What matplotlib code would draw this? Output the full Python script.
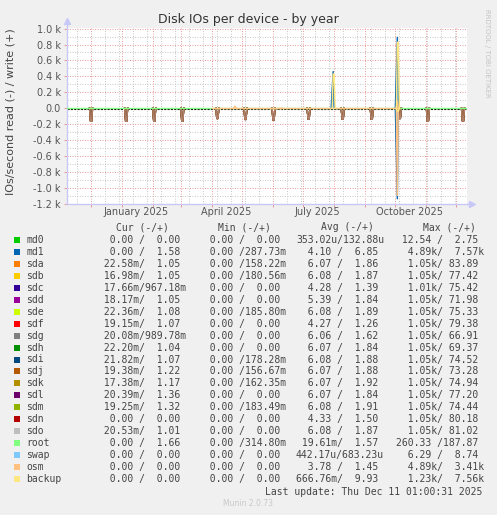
import numpy as np
import matplotlib
matplotlib.use("Agg")
import matplotlib.pyplot as plt
import matplotlib.dates as mdates
from matplotlib.patches import Rectangle
from matplotlib.transforms import offset_copy

W, H = 497, 515

# Geraete und Farben (Munin-Palette)
devices = ["md0", "md1", "sda", "sdb", "sdc", "sdd", "sde", "sdf", "sdg", "sdh",
           "sdi", "sdj", "sdk", "sdl", "sdm", "sdn", "sdo", "root", "swap", "osm", "backup"]
colors = ["#00CC00", "#0066B3", "#FF8000", "#FFCC00", "#330099", "#990099", "#CCFF00",
          "#FF0000", "#808080", "#008F00", "#00487D", "#B35A00", "#B38F00", "#6B006B",
          "#8FB300", "#B30000", "#BEBEBE", "#80FF80", "#80C9FF", "#FFC080", "#FFE680"]

# Legendenwerte (read / write)
cur_read = ["0.00", "0.00", "22.58m", "16.98m", "17.66m", "18.17m", "22.36m", "19.15m", "20.08m",
            "22.20m", "21.82m", "19.38m", "17.38m", "20.39m", "19.25m", "0.00", "20.53m",
            "0.00", "0.00", "0.00", "0.00"]
cur_write = ["0.00", "1.58", "1.05", "1.05", "967.18m", "1.05", "1.08", "1.07", "989.78m",
             "1.04", "1.07", "1.22", "1.17", "1.36", "1.32", "0.00", "1.01",
             "1.66", "0.00", "0.00", "0.00"]
min_read = ["0.00"] * 21
min_write = ["0.00", "287.73m", "158.22m", "180.56m", "0.00", "0.00", "185.80m", "0.00", "0.00",
             "0.00", "178.28m", "156.67m", "162.35m", "0.00", "183.49m", "0.00", "0.00",
             "314.80m", "0.00", "0.00", "0.00"]
avg_read = ["353.02u", "4.10", "6.07", "6.08", "4.28", "5.39", "6.08", "4.27", "6.06",
            "6.07", "6.08", "6.07", "6.07", "6.07", "6.08", "4.33", "6.08",
            "19.61m", "442.17u", "3.78", "666.76m"]
avg_write = ["132.88u", "6.85", "1.86", "1.87", "1.39", "1.84", "1.89", "1.26", "1.62",
             "1.84", "1.88", "1.88", "1.92", "1.84", "1.91", "1.50", "1.87",
             "1.57", "683.23u", "1.45", "9.93"]
max_read = ["12.54", "4.89k", "1.05k", "1.05k", "1.01k", "1.05k", "1.05k", "1.05k", "1.05k",
            "1.05k", "1.05k", "1.05k", "1.05k", "1.05k", "1.05k", "1.05k", "1.05k",
            "260.33", "6.29", "4.89k", "1.23k"]
max_write = ["2.75", "7.57k", "83.89", "77.42", "75.42", "71.98", "75.33", "79.38", "66.91",
             "69.37", "74.52", "73.28", "74.94", "77.20", "74.44", "80.18", "81.02",
             "187.87", "8.74", "3.41k", "7.56k"]

# monatlicher RAID-Check: Lese-Spitzen der sd-Platten (IOs/s, Tagesmittel)
check_days = ["2024-12-01", "2025-01-05", "2025-02-02", "2025-03-02", "2025-04-06", "2025-05-04",
              "2025-06-01", "2025-07-06", "2025-08-09", "2025-09-07", "2025-10-05", "2025-11-02",
              "2025-12-07"]
check_reads = [165, 165, 165, 165, 130, 142, 150, 138, 140, 140, 130, 164, 164]

# einzelne Ereignisse
md1_days = ["2025-07-31", "2025-10-03"]
md1_reads = [0, 1140]
md1_writes = [460, 890]
backup_days = ["2025-07-31", "2025-10-03"]
backup_reads = [0, 40]
backup_writes = [430, 830]
osm_days = ["2025-04-24", "2025-06-09", "2025-10-03"]
osm_reads = [0, 10, 1100]
osm_writes = [25, 0, 90]
root_write_level = 1.57
osm_active = ["2025-04-01", "2025-10-05"]

start = np.datetime64("2024-11-07")
end = np.datetime64("2025-12-12")


def spikes(days, vals, sign, before=1, hold=0):
    xs, ys = [], []
    for d, v in zip(days, vals):
        if v == 0:
            continue
        t = mdates.date2num(np.datetime64(d))
        xs += [t - before, t, t + hold, t + hold + 1, np.nan]
        ys += [0, sign * v, sign * v, 0, np.nan]
    return xs, ys


fig = plt.figure(figsize=(W / 100, H / 100), dpi=100)
fig.patch.set_facecolor("#F0F0F0")
ax = fig.add_axes([66.5 / W, 1 - 203.5 / H, 401 / W, 175.5 / H])
ax.set_facecolor("white")
ax.set_xlim(mdates.date2num(start), mdates.date2num(end))
ax.set_ylim(-1200, 1008)

# Gitter
month_starts = np.arange(np.datetime64("2024-12"), np.datetime64("2026-01"), 1).astype("datetime64[D]")
biweekly = np.arange(np.datetime64("2024-11-17"), end, 14)
ax.set_xticks(mdates.date2num(month_starts))
ax.set_xticks(mdates.date2num(biweekly), minor=True)
ax.set_xticklabels([])
ax.set_yticks(np.arange(-1200, 1001, 200))
ax.set_yticks(np.arange(-1100, 1001, 200), minor=True)
ax.set_yticklabels(["0.0" if v == 0 else f"{v / 1000:.1f} k" for v in np.arange(-1200, 1001, 200)])
ax.grid(which="minor", color="#CACACA", linestyle=(0, (1, 1.5)), linewidth=0.72)
ax.grid(which="major", color="#EEA0A0", linestyle=(0, (1, 1.5)), linewidth=0.72)
ax.set_axisbelow(True)
ax.tick_params(which="major", length=2, width=0.7, color="#E89A9A", labelsize=7,
               labelcolor="#555555", pad=2)
ax.tick_params(which="minor", length=0)

for s in ["top", "right"]:
    ax.spines[s].set_visible(False)
for s in ["left", "bottom"]:
    ax.spines[s].set_color("#C8C8F8")
    ax.spines[s].set_linewidth(1)
ax.plot([0, 0], [1, 1.04], transform=ax.transAxes, color="#C8C8F8", lw=1, clip_on=False)
ax.plot([0], [1.04], marker="^", ms=5, color="#C8C8F8", transform=ax.transAxes, clip_on=False)
ax.plot([1, 1.012], [0, 0], transform=ax.transAxes, color="#C8C8F8", lw=1, clip_on=False)
ax.plot([1.012], [0], marker=">", ms=5, color="#C8C8F8", transform=ax.transAxes, clip_on=False)

# Quartalsbeschriftung
for d, lab in [("2025-01-15", "January 2025"), ("2025-04-15", "April 2025"),
               ("2025-07-15", "July 2025"), ("2025-10-15", "October 2025")]:
    ax.text(mdates.date2num(np.datetime64(d)), -(212 - 203.5) / 175.5, lab,
            transform=ax.get_xaxis_transform(), ha="center", va="center",
            fontsize=7, color="#555555")

# Nulllinie
zero_tr = offset_copy(ax.transData, fig=fig, x=0, y=-1, units="dots")
ax.plot([mdates.date2num(start), mdates.date2num(end)], [0, 0], color="black",
        lw=0.8, linestyle=(0, (2, 1)), transform=zero_tr, zorder=2)

# Daten zeichnen
lw = 1.0
for i, dev in enumerate(devices):
    c = colors[i]
    if dev.startswith("sd"):
        x, y = spikes(check_days, check_reads, -1, hold=1)
        ax.plot(x, y, color=c, lw=lw, alpha=0.55, zorder=3)
    elif dev == "md1":
        for vals, sign in [(md1_reads, -1), (md1_writes, 1)]:
            x, y = spikes(md1_days, vals, sign, before=2)
            ax.plot(x, y, color=c, lw=lw, zorder=3)
    elif dev == "root":
        ax.plot([mdates.date2num(start), mdates.date2num(end)],
                [root_write_level, root_write_level], color=c, lw=lw, zorder=3)
    elif dev == "osm":
        ax.plot(mdates.date2num(np.array(osm_active, dtype="datetime64[D]")), [0, 0],
                color=c, lw=lw, zorder=3)
        for vals, sign in [(osm_reads, -1), (osm_writes, 1)]:
            x, y = spikes(osm_days, vals, sign)
            ax.plot(x, y, color=c, lw=lw, zorder=3)
    elif dev == "backup":
        for vals, sign in [(backup_reads, -1), (backup_writes, 1)]:
            x, y = spikes(backup_days, vals, sign, hold=1)
            ax.plot(x, y, color=c, lw=lw, zorder=3)

# Texte
fig.text(248 / W, 1 - 20 / H, "Disk IOs per device - by year", ha="center", va="center",
         fontsize=9, color="#333333")
fig.text(11 / W, 1 - 112 / H, "IOs/second read (-) / write (+)", rotation=90,
         ha="center", va="center", fontsize=8, color="#444444")
fig.text(487 / W, 1 - 53 / H, "RRDTOOL / TOBI OETIKER", rotation=270, ha="center",
         va="center", fontsize=5, color="#C4C4C4")

mono = "DejaVu Sans Mono"
col_x = [97.5, 197.7, 296, 395.5]
for hx, hdr in zip([116, 218, 321, 423], ["Cur (-/+)", "Min (-/+)", "Avg (-/+)", "Max (-/+)"]):
    fig.text(hx / W, 1 - 227.3 / H, hdr, family=mono, fontsize=7, color="#444444",
             ha="left", va="center")


def half(s):
    if s[-1] in "umkM":
        return s[:-1].rjust(6) + s[-1]
    return s.rjust(6) + " "


for i, dev in enumerate(devices):
    y = 239.7 + i * 11.98
    fig.add_artist(Rectangle((14 / W, 1 - (y + 3) / H), 6 / W, 6 / H,
                             transform=fig.transFigure, facecolor=colors[i], edgecolor="none"))
    fig.text(26.3 / W, 1 - y / H, dev, family=mono, fontsize=7, color="#444444",
             ha="left", va="center")
    cols = [(cur_read, cur_write), (min_read, min_write), (avg_read, avg_write), (max_read, max_write)]
    for cx, (r, w) in zip(col_x, cols):
        fig.text(cx / W, 1 - y / H, half(r[i]) + "/" + half(w[i]), family=mono, fontsize=7,
                 color="#444444", ha="left", va="center")

fig.text(482.7 / W, 1 - 491.7 / H, "Last update: Thu Dec 11 01:00:31 2025", family=mono,
         fontsize=7, color="#444444", ha="right", va="center")
fig.text(248 / W, 1 - 504 / H, "Munin 2.0.73", ha="center", va="center", fontsize=5.5,
         color="#C8C8C8")

fig.savefig("out.png", dpi=100, facecolor=fig.get_facecolor())
